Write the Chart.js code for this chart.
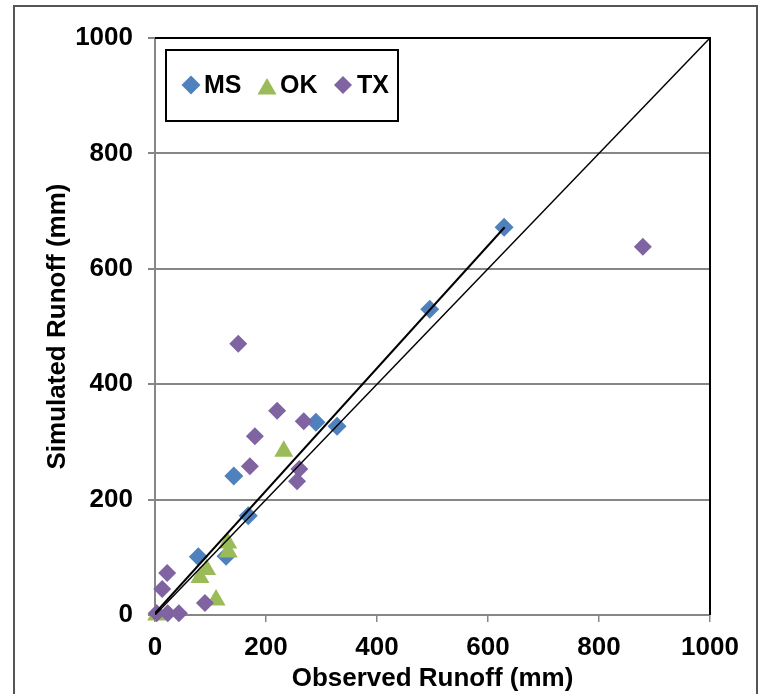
<!DOCTYPE html>
<html>
<head>
<meta charset="utf-8">
<script src="https://cdn.jsdelivr.net/npm/chart.js@4/dist/chart.umd.min.js"></script>
<style>
  html, body { margin: 0; padding: 0; background: #fff; }
  #wrap { width: 760px; height: 694px; position: relative; }
</style>
</head>
<body>
<div id="wrap"><canvas id="runoffChart" width="760" height="694"></canvas></div>
<script>
// observed vs simulated runoff (mm)
const msObserved = [629, 495, 290, 328, 142, 168, 78, 128];
const msSimulated = [672, 530, 334, 327, 241, 172, 101, 102];

const okObserved = [232, 131, 132, 93, 81, 110, 3];
const okSimulated = [284, 125, 109, 79, 65, 26, 0];

const txObserved = [879, 150, 220, 268, 180, 171, 260, 256, 22, 13, 90, 3, 23, 43];
const txSimulated = [638, 470, 354, 336, 310, 258, 253, 232, 73, 45, 21, 3, 3, 3];

// MS trend line end points and the 1:1 line
const trendX = [0, 630];
const trendY = [3, 672];
const oneToOneX = [0, 1000];
const oneToOneY = [0, 1000];

const axisTicks = [0, 200, 400, 600, 800, 1000];

const toPoints = (xs, ys) => xs.map((x, i) => ({ x: x, y: ys[i] }));

const BLUE = '#4F81BD';
const GREEN = '#9BBB59';
const PURPLE = '#8064A2';
const GRAY = '#868686';
const FONT = 'Liberation Sans, Arial, sans-serif';

// white background + outer frame + black plot border
const framePlugin = {
  id: 'frame',
  beforeDraw(chart) {
    const ctx = chart.ctx;
    ctx.save();
    ctx.fillStyle = '#fff';
    ctx.fillRect(0, 0, chart.width, chart.height);
    ctx.strokeStyle = '#555';
    ctx.lineWidth = 2;
    ctx.strokeRect(14, 6, 743, 700);
    ctx.restore();
  },
  afterDraw(chart) {
    const a = chart.chartArea;
    const ctx = chart.ctx;
    ctx.save();
    ctx.strokeStyle = '#000';
    ctx.lineWidth = 2;
    ctx.beginPath();
    ctx.moveTo(a.left, a.top);
    ctx.lineTo(a.right, a.top);
    ctx.lineTo(a.right, a.bottom);
    ctx.stroke();
    ctx.restore();
  }
};

// boxed legend inside the plot, top left
const boxLegend = {
  id: 'boxLegend',
  afterDraw(chart) {
    const ctx = chart.ctx;
    ctx.save();
    ctx.fillStyle = '#fff';
    ctx.fillRect(166, 50, 232, 71);
    ctx.strokeStyle = '#000';
    ctx.lineWidth = 2;
    ctx.strokeRect(166, 50, 232, 71);

    const items = [
      { ds: 0, mx: 191, tx: 204, r: 9.5 },
      { ds: 1, mx: 267, tx: 280, r: 11 },
      { ds: 2, mx: 343, tx: 357, r: 9 }
    ];
    ctx.font = 'bold 25px ' + FONT;
    ctx.textBaseline = 'middle';
    ctx.textAlign = 'left';
    items.forEach(it => {
      const d = chart.data.datasets[it.ds];
      ctx.fillStyle = d.backgroundColor;
      ctx.strokeStyle = d.backgroundColor;
      ctx.lineWidth = 0;
      const style = { pointStyle: d.pointStyle, radius: it.r, rotation: 0, borderWidth: 0 };
      const cy = d.pointStyle === 'triangle' ? 89 : 85;
      Chart.helpers.drawPoint(ctx, style, it.mx, cy);
      ctx.fillStyle = '#000';
      ctx.fillText(d.label, it.tx, 86);
    });
    ctx.restore();
  }
};

const ctx = document.getElementById('runoffChart').getContext('2d');
new Chart(ctx, {
  type: 'scatter',
  data: {
    datasets: [
      {
        label: 'MS',
        data: toPoints(msObserved, msSimulated),
        pointStyle: 'rectRot',
        pointRadius: 9.5,
        backgroundColor: BLUE,
        borderColor: BLUE,
        borderWidth: 0,
        clip: false,
        order: 3
      },
      {
        label: 'OK',
        data: toPoints(okObserved, okSimulated),
        pointStyle: 'triangle',
        pointRadius: 11,
        backgroundColor: GREEN,
        borderColor: GREEN,
        borderWidth: 0,
        clip: false,
        order: 2
      },
      {
        label: 'TX',
        data: toPoints(txObserved, txSimulated),
        pointStyle: 'rectRot',
        pointRadius: 9,
        backgroundColor: PURPLE,
        borderColor: PURPLE,
        borderWidth: 0,
        clip: false,
        order: 1
      },
      {
        label: 'trend',
        data: toPoints(trendX, trendY),
        showLine: true,
        pointRadius: 0,
        borderColor: '#000',
        borderWidth: 2,
        order: 0
      },
      {
        label: '1:1',
        data: toPoints(oneToOneX, oneToOneY),
        showLine: true,
        pointRadius: 0,
        borderColor: '#000',
        borderWidth: 1.5,
        order: 0
      }
    ]
  },
  options: {
    responsive: false,
    animation: false,
    layout: { padding: { left: 0, right: 50, top: 38, bottom: 0 } },
    plugins: {
      legend: { display: false },
      tooltip: { enabled: false }
    },
    scales: {
      x: {
        type: 'linear',
        min: 0,
        max: 1000,
        afterBuildTicks: s => { s.ticks = axisTicks.map(v => ({ value: v })); },
        afterFit: s => { s.height = 79; },
        grid: { drawOnChartArea: false, drawTicks: true, tickLength: 7, color: GRAY, lineWidth: 1.5 },
        border: { color: GRAY, width: 2 },
        ticks: {
          color: '#000',
          font: { family: FONT, size: 26, weight: 'bold' },
          padding: 10,
          maxRotation: 0,
          callback: v => String(v)
        },
        title: {
          display: true,
          text: 'Observed Runoff (mm)',
          color: '#000',
          font: { family: FONT, size: 26, weight: 'bold' },
          padding: { top: 0, bottom: 0 }
        }
      },
      y: {
        type: 'linear',
        min: 0,
        max: 1000,
        afterBuildTicks: s => { s.ticks = axisTicks.map(v => ({ value: v })); },
        afterFit: s => { s.width = 155; },
        grid: { color: GRAY, lineWidth: 2, tickLength: 7 },
        border: { color: GRAY, width: 2 },
        ticks: {
          color: '#000',
          font: { family: FONT, size: 26, weight: 'bold' },
          padding: 15,
          callback: v => String(v)
        },
        title: {
          display: true,
          text: 'Simulated Runoff (mm)',
          color: '#000',
          font: { family: FONT, size: 26, weight: 'bold' },
          padding: { top: 42, bottom: 0 }
        }
      }
    }
  },
  plugins: [framePlugin, boxLegend]
});
</script>
</body>
</html>
